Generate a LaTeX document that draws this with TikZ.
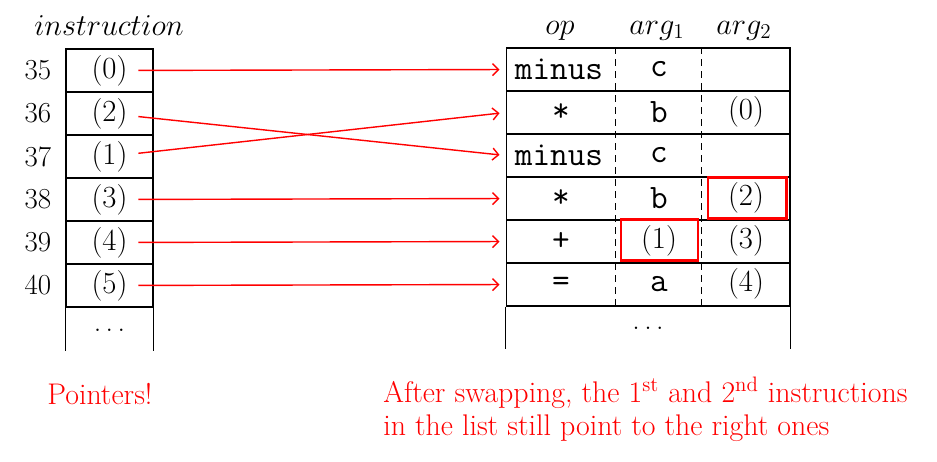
\documentclass[tikz,border=0pt]{standalone}
\usepackage{tikz}
\usetikzlibrary{arrows.meta,positioning,calc}
\definecolor{ptrred}{RGB}{255,0,0}

\begin{document}
\begin{tikzpicture}[
    x=0.02cm, y=-0.02cm,
    >={Straight Barb[length=1.2mm,width=2.4mm]},
    lcell/.style={rectangle, draw, line width=0.6pt, inner sep=0pt,
                  minimum width=1.74cm, minimum height=0.86cm,
                  font=\fontsize{17.5}{20}\selectfont},
    rrow/.style={rectangle, draw, line width=0.6pt, inner sep=0pt,
                 minimum width=5.68cm, minimum height=0.86cm},
    idx/.style={inner sep=0pt, font=\fontsize{16.5}{19}\selectfont},
    hdr/.style={anchor=base, inner sep=0pt, font=\fontsize{17}{19}\selectfont},
    opcell/.style={inner sep=0pt, font=\fontsize{19.5}{21}\selectfont\ttfamily},
    argcell/.style={inner sep=0pt, font=\fontsize{17.5}{20}\selectfont},
    dashsep/.style={line width=0.6pt, dash pattern=on 0.14cm off 0.1cm},
    ptr/.style={->, ptrred, line width=0.8pt, shorten <=0.58cm, shorten >=0.12cm},
    hilite/.style={draw=ptrred, line width=1.7pt},
    note/.style={inner sep=0pt, text=ptrred, font=\fontsize{17}{18.8}\selectfont}
]
\useasboundingbox (0,0) rectangle (937,461);

% Instruction list
\node[hdr, font=\fontsize{16}{19}\selectfont] (hinstr) at (109,35) {$instruction$};
\node[lcell] (c0) at (109.5,70.5) {(0)};
\node[lcell] (c1) at (109.5,113.5) {(2)};
\node[lcell] (c2) at (109.5,156.5) {(1)};
\node[lcell] (c3) at (109.5,199.5) {(3)};
\node[lcell] (c4) at (109.5,242.5) {(4)};
\node[lcell] (c5) at (109.5,285.5) {(5)};
\draw[line width=0.6pt] (c5.south west) -- ++(0,43);
\draw[line width=0.6pt] (c5.south east) -- ++(0,43);
\node[anchor=base, font=\fontsize{17}{19}\selectfont] (ldots) at (109.5,331) {.\kern0.09cm.\kern0.09cm.};

\node[idx, left=0.28cm of c0] (n35) {35};
\node[idx, left=0.28cm of c1] (n36) {36};
\node[idx, left=0.28cm of c2] (n37) {37};
\node[idx, left=0.28cm of c3] (n38) {38};
\node[idx, left=0.28cm of c4] (n39) {39};
\node[idx, left=0.28cm of c5] (n40) {40};

% Triples
\node[hdr] (hop) at (560,34) {$op$};
\node[hdr] (harga) at (657,34) {$arg_1$};
\node[hdr] (hargb) at (744,34) {$arg_2$};
\node[rrow] (r0) at (648,69.5) {};
\node[rrow] (r1) at (648,112.5) {};
\node[rrow] (r2) at (648,155.5) {};
\node[rrow] (r3) at (648,198.5) {};
\node[rrow] (r4) at (648,241.5) {};
\node[rrow] (r5) at (648,284.5) {};
\draw[line width=0.6pt] (r5.south west) -- ++(0,42);
\draw[line width=0.6pt] (r5.south east) -- ++(0,42);
\draw[dashsep] ($(r0.north west)+(110,0)$) -- ($(r5.south west)+(110,0)$);
\draw[dashsep] ($(r0.north west)+(196,0)$) -- ($(r5.south west)+(196,0)$);
\node[anchor=base, font=\fontsize{17}{19}\selectfont] (rdots) at (648,329) {.\kern0.09cm.\kern0.09cm.};

\node[opcell] (o0) at (559,69.5) {minus};
\node[opcell] (o1) at (561,112.5) {*};
\node[opcell] (o2) at (559,155.5) {minus};
\node[opcell] (o3) at (561,198.5) {*};
\node[opcell] (o4) at (561,241.5) {+};
\node[opcell] (o5) at (561,284.5) {=};
\node[opcell] (a0) at (659,69.5) {c};
\node[opcell] (a1) at (659,112.5) {b};
\node[opcell] (a2) at (659,155.5) {c};
\node[opcell] (a3) at (659,198.5) {b};
\node[argcell] (a4) at (659,240.5) {(1)};
\node[opcell] (a5) at (659,284.5) {a};
\node[argcell] (b1) at (746,111.5) {(0)};
\node[argcell] (b3) at (746,197.5) {(2)};
\node[argcell] (b4) at (746,240.5) {(3)};
\node[argcell] (b5) at (746,283.5) {(4)};

\draw[hilite] (708,177) rectangle (786,218);
\draw[hilite] (621,219) rectangle (698,260);

% Pointers
\draw[ptr] (c0.center) -- (r0.west);
\draw[ptr] (c1.center) -- (r2.west);
\draw[ptr] (c2.center) -- (r1.west);
\draw[ptr] (c3.center) -- (r3.west);
\draw[ptr] (c4.center) -- (r4.west);
\draw[ptr] (c5.center) -- (r5.west);

% Notes
\node[note, anchor=base west] (ptrnote) at (47,404) {Pointers!};
\node[note, anchor=north west, align=left] (swapnote) at (383,377)
  {After swapping, the 1\textsuperscript{st} and 2\textsuperscript{nd} instructions\\in the list still point to the right ones};
\end{tikzpicture}
\end{document}
